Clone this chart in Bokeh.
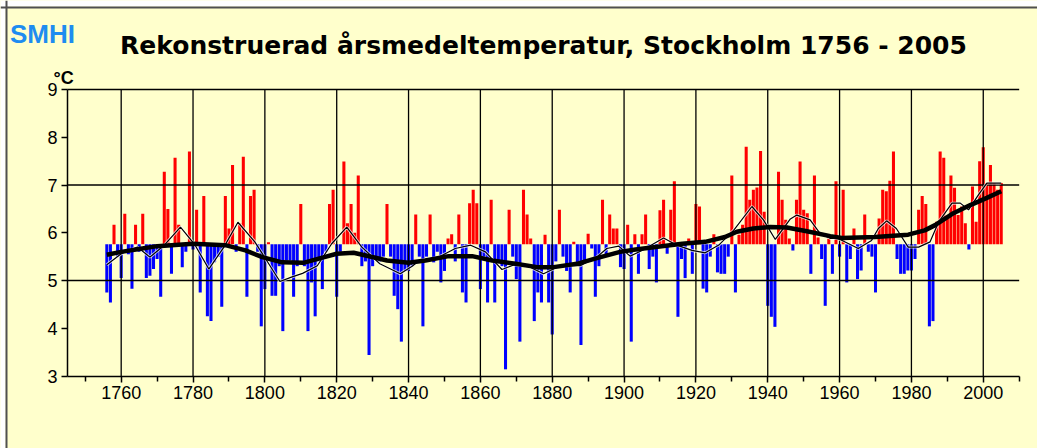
from bokeh.plotting import figure
from bokeh.models import FixedTicker, Label, Range1d, Span, BoxAnnotation
from bokeh.embed import file_html
from bokeh.resources import INLINE

# ---- data ----
first_year = 1756
last_year = 2005
baseline = 5.76

temps = [
    # 1756-1759
    4.75, 4.54, 6.17, 5.50,
    # 1760-1769
    5.05, 6.40, 5.55, 4.83, 6.17, 5.60, 6.40, 5.05, 5.10, 5.24,
    # 1770-1779
    5.45, 4.66, 7.28, 6.50, 5.14, 7.57, 6.17, 5.28, 5.60, 7.70,
    # 1780-1789
    5.65, 6.48, 4.75, 6.77, 4.25, 4.15, 5.38, 5.50, 4.45, 6.77,
    # 1790-1799
    6.09, 7.42, 5.60, 6.20, 7.59, 4.66, 6.77, 6.90, 5.60, 4.04,
    # 1800-1809
    4.82, 5.80, 4.68, 4.68, 5.30, 3.94, 5.42, 5.42, 4.66, 5.30,
    # 1810-1819
    6.60, 5.30, 3.94, 4.96, 4.25, 5.40, 4.82, 5.60, 6.60, 6.90,
    # 1820-1829
    4.66, 5.60, 7.49, 6.20, 6.60, 6.00, 7.20, 5.30, 5.40, 3.44,
    # 1830-1839
    5.30, 5.50, 5.40, 5.50, 6.60, 5.50, 4.68, 4.40, 3.72, 5.20,
    # 1840-1849
    5.20, 5.30, 6.38, 5.50, 4.04, 5.50, 6.38, 5.38, 5.60, 4.96,
    # 1850-1859
    5.20, 5.88, 5.97, 5.40, 6.38, 4.75, 4.54, 6.62, 6.90, 6.62,
    # 1860-1869
    4.82, 5.50, 4.54, 6.69, 4.54, 5.40, 5.30, 3.14, 6.48, 5.50,
    # 1870-1879
    5.03, 3.72, 6.90, 6.38, 5.88, 4.15, 4.75, 4.54, 5.96, 4.54,
    # 1880-1889
    3.87, 5.40, 6.48, 5.50, 5.20, 4.75, 5.81, 5.31, 3.65, 5.40,
    # 1890-1899
    5.98, 5.67, 4.66, 5.30, 6.69, 5.50, 6.38, 6.09, 6.09, 5.28,
    # 1900-1909
    5.24, 6.17, 3.72, 5.97, 5.14, 5.97, 6.38, 5.24, 5.50, 4.96,
    # 1910-1919
    6.47, 6.69, 5.56, 6.48, 7.08, 4.24, 5.45, 5.05, 5.88, 5.14,
    # 1920-1929
    6.60, 6.55, 4.83, 4.75, 5.50, 5.97, 5.17, 5.14, 5.14, 5.50,
    # 1930-1939
    7.20, 4.75, 5.96, 6.17, 7.80, 6.69, 6.90, 6.95, 7.71, 6.44,
    # 1940-1949
    4.47, 4.24, 4.03, 7.28, 6.69, 6.27, 5.88, 5.63, 6.69, 7.49,
    # 1950-1959
    6.48, 6.41, 5.14, 7.20, 5.90, 5.45, 4.47, 5.88, 5.14, 7.08,
    # 1960-1969
    5.50, 6.90, 4.96, 5.45, 6.09, 5.03, 5.21, 6.38, 5.60, 5.50,
    # 1970-1979
    4.75, 6.30, 6.90, 6.87, 7.09, 7.70, 5.45, 5.14, 5.14, 5.21,
    # 1980-1989
    5.21, 5.45, 6.48, 6.77, 6.60, 4.04, 4.15, 6.23, 7.70, 7.57,
    # 1990-1999
    6.30, 7.20, 6.94, 6.37, 6.55, 6.20, 5.65, 6.97, 6.23, 7.50,
    # 2000-2005
    7.79, 7.04, 7.42, 7.04, 6.90, 7.04,
]
years = list(range(first_year, last_year + 1))

# heavily smoothed curve (thick line)
smooth_years = [1756, 1760, 1765, 1770, 1780, 1789, 1794.6, 1799.3, 1804.8, 1810.7,
                1815.5, 1820, 1824.7, 1828.4, 1834, 1840, 1844.7, 1851.2, 1857.7, 1863.3,
                1869.8, 1875.8, 1880.4, 1886.9, 1892.4, 1898.9, 1903.2, 1908.8, 1916.2, 1922.6,
                1928.1, 1931.4, 1936, 1940.7, 1945.3, 1950.9, 1957.4, 1960.6, 1969.9, 1979.1,
                1983.7, 1986.6, 1991.7, 1996.4, 2001, 2005]
smooth_vals = [5.54, 5.60, 5.66, 5.72, 5.77, 5.74, 5.63, 5.49, 5.38, 5.37,
               5.47, 5.56, 5.58, 5.52, 5.42, 5.37, 5.42, 5.51, 5.51, 5.42,
               5.35, 5.28, 5.28, 5.35, 5.47, 5.60, 5.65, 5.70, 5.77, 5.81,
               5.91, 6.02, 6.09, 6.12, 6.11, 6.03, 5.93, 5.89, 5.91, 5.96,
               6.05, 6.16, 6.41, 6.58, 6.73, 6.87]

# lightly smoothed curve (thin line)
thin_years = [1756, 1760, 1764.5, 1768, 1772, 1776.5, 1780.5, 1784.4, 1788.6, 1792.5,
              1797.2, 1800.5, 1804.2, 1807.4, 1810.5, 1814.6, 1818.6, 1822.8, 1827, 1832,
              1837.7, 1841, 1843, 1848.4, 1853, 1857.3, 1861.4, 1866, 1869.5, 1873,
              1877.6, 1882.2, 1887.8, 1892.4, 1895.2, 1898.5, 1901.7, 1905, 1911, 1914.7,
              1918.9, 1922.6, 1926.5, 1930.5, 1935.6, 1938.8, 1942.1, 1946.3, 1948.1, 1951.8,
              1954.6, 1957.5, 1959.6, 1965.2, 1968.9, 1970.8, 1973.1, 1975.8, 1979.1, 1982,
              1985.2, 1987.6, 1991.3, 1993.6, 1995.9, 1998.7, 2001, 2005]
thin_vals = [5.33, 5.56, 5.70, 5.49, 5.74, 6.12, 5.75, 5.24, 5.70, 6.22,
             5.81, 5.42, 4.98, 5.07, 5.15, 5.31, 5.77, 6.12, 5.70, 5.35,
             5.14, 5.30, 5.42, 5.49, 5.67, 5.74, 5.60, 5.23, 5.33, 5.31,
             5.14, 5.31, 5.31, 5.49, 5.67, 5.72, 5.51, 5.63, 5.89, 5.74,
             5.63, 5.58, 5.75, 6.05, 6.55, 6.27, 5.86, 6.29, 6.37, 6.27,
             5.98, 5.88, 5.88, 5.67, 5.84, 6.09, 6.25, 6.09, 5.70, 5.70,
             5.81, 6.23, 6.62, 6.62, 6.48, 6.80, 7.04, 7.04]

# axis extents and ticks
x_axis_start, x_axis_end = 1745.05, 2010
y_axis_start, y_axis_end = 3, 9
y_ticks = [3, 4, 5, 6, 7, 8, 9]
y_grid = [5, 7, 9]
x_major = [1760, 1780, 1800, 1820, 1840, 1860, 1880, 1900, 1920, 1940, 1960, 1980, 2000]
x_minor = [1750, 1770, 1790, 1810, 1830, 1850, 1870, 1890, 1910, 1930, 1950, 1970, 1990, 2010]

title_text = "Rekonstruerad årsmedeltemperatur, Stockholm 1756 - 2005"
logo_text = "SMHI"
unit_text = "°C"

# ---- figure: the frame fills the whole canvas, axes sit at fixed locations ----
bg = "#FFFFCC"
p = figure(width=1037, height=448, output_backend="svg", toolbar_location=None,
           x_range=Range1d(1726.40, 2015.10), y_range=Range1d(1.482, 10.864),
           min_border=0, background_fill_color=bg, border_fill_color=bg,
           outline_line_color=None)
p.grid.visible = False

# white page margin round the panel, and the panel's dark left/top edge
p.add_layout(BoxAnnotation(right=1727.79, fill_color="white", fill_alpha=1, line_color=None))
p.add_layout(BoxAnnotation(bottom=10.738, fill_color="white", fill_alpha=1, line_color=None))
p.add_layout(Span(location=1728.07, dimension="height", line_color="#505050", line_width=2))
p.add_layout(Span(location=10.717, dimension="width", line_color="#505050", line_width=2))

colors = ["#FF0000" if t >= baseline else "#0000FF" for t in temps]
p.vbar(x=years, top=temps, bottom=baseline, width=0.85, fill_color=colors, line_color=None)

# grid lines (over the bars, as in the reference)
p.segment(x0=x_major, x1=x_major, y0=[y_axis_start] * len(x_major), y1=[y_axis_end] * len(x_major),
          line_color="black", line_width=1.3)
p.segment(x0=[x_axis_start] * len(y_grid), x1=[x_axis_end] * len(y_grid), y0=y_grid, y1=y_grid,
          line_color="black", line_width=1.3)

p.line(thin_years, thin_vals, line_color="white", line_width=3, line_alpha=0.7)
p.line(thin_years, thin_vals, line_color="black", line_width=1.2)
p.line(smooth_years, smooth_vals, line_color="black", line_width=4.5, line_join="round")

# axes
p.yaxis.ticker = FixedTicker(ticks=y_ticks)
p.xaxis.ticker = FixedTicker(ticks=x_major, minor_ticks=x_minor)
p.xaxis.fixed_location = y_axis_start
p.yaxis.fixed_location = x_axis_start
p.xaxis.bounds = (x_axis_start, x_axis_end)
p.yaxis.bounds = (y_axis_start, y_axis_end)
for ax in (p.xaxis[0], p.yaxis[0]):
    ax.axis_line_color = "black"
    ax.axis_line_width = 1.5
    ax.major_tick_line_color = "black"
    ax.major_tick_line_width = 1.5
    ax.major_tick_in = 0
    ax.major_tick_out = 6
    ax.major_label_text_font = "Liberation Sans"
    ax.major_label_text_font_size = "18px"
    ax.major_label_text_color = "black"
    ax.major_label_standoff = 4
p.xaxis.minor_tick_line_color = "black"
p.xaxis.minor_tick_line_width = 1.5
p.xaxis.minor_tick_in = 0
p.xaxis.minor_tick_out = 5
p.yaxis.minor_tick_line_color = None

# texts
p.add_layout(Label(x=1877.57, y=9.921, text=title_text, text_align="center", text_baseline="middle",
                   text_font="DejaVu Sans", text_font_style="bold", text_font_size="25px",
                   text_color="black"))
p.add_layout(Label(x=1741.15, y=9.251, text=unit_text, text_align="left", text_baseline="middle",
                   text_font="Liberation Sans", text_font_style="bold", text_font_size="18px",
                   text_color="black"))
p.add_layout(Label(x=1738.09, y=10.152, text=logo_text, text_align="center", text_baseline="middle",
                   text_font="Liberation Sans", text_font_style="bold", text_font_size="26px",
                   text_color="#1E8CF0"))

open("out.html", "w").write(file_html(p, INLINE))
